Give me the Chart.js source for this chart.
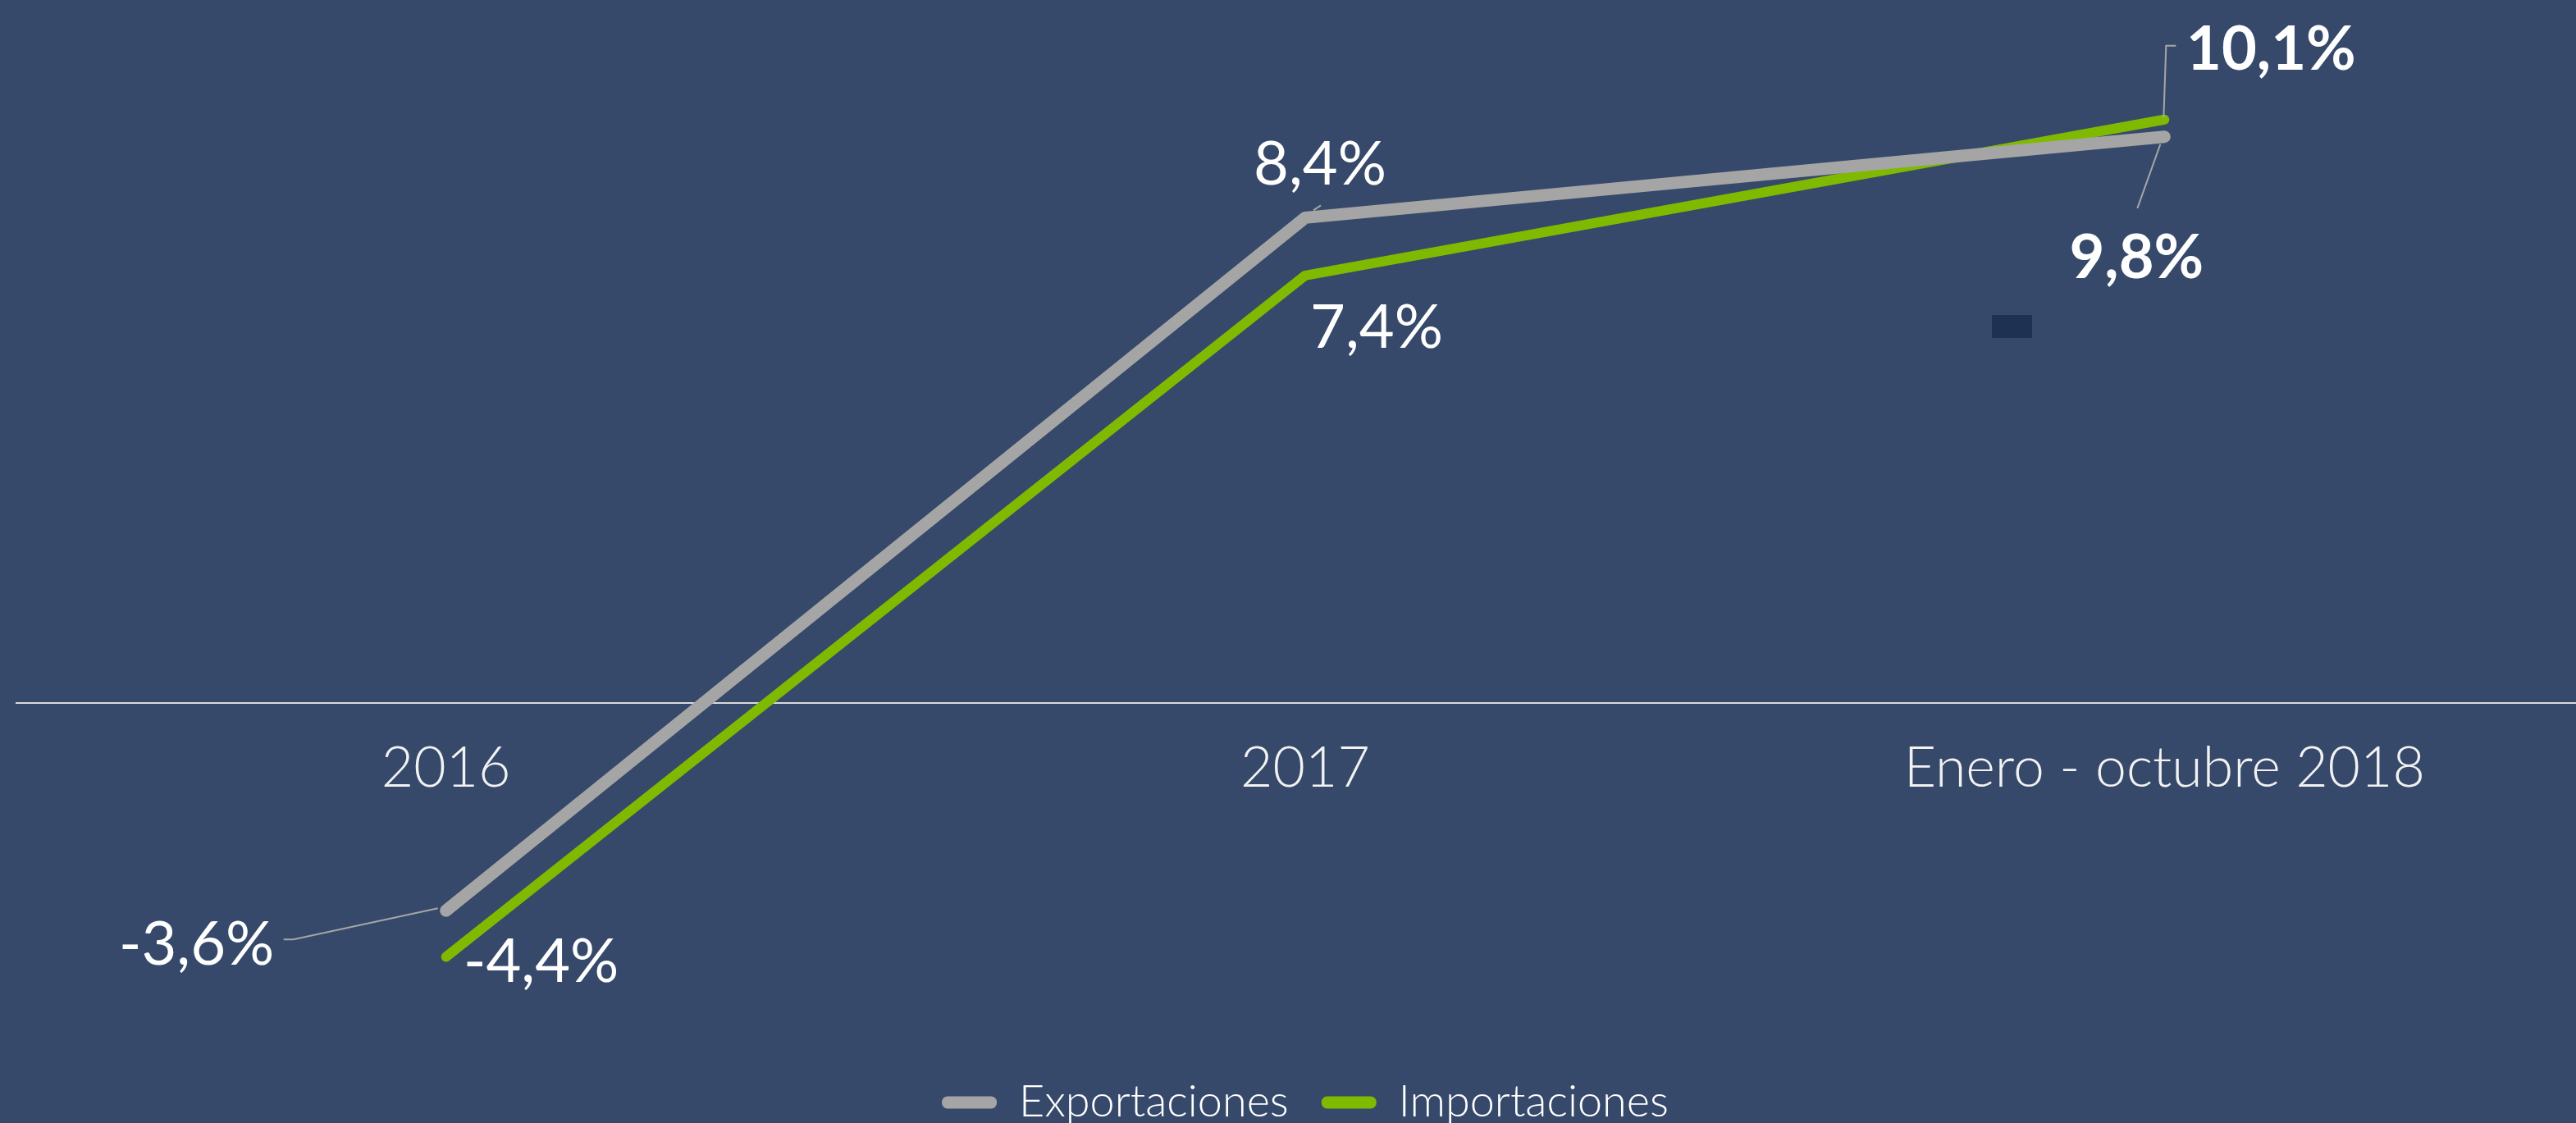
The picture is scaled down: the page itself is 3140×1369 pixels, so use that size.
<!DOCTYPE html>
<html>
<head>
<meta charset="utf-8">
<script src="https://cdn.jsdelivr.net/npm/chart.js@4/dist/chart.umd.min.js"></script>
<style>
  html, body { margin: 0; padding: 0; background: #36496a; overflow: hidden; }
  #wrap { width: 3164px; height: 1381px; position: relative; }
</style>
</head>
<body>
<div id="wrap"><canvas id="grafica"></canvas></div>
<script>
// Etiquetas del eje X y datos (variación %)
const etiquetas = ["2016", "2017", "Enero - octubre 2018"];
const exportaciones = [-3.6, 8.4, 9.8];
const importaciones = [-4.4, 7.4, 10.1];
const nombres = ["Exportaciones", "Importaciones"];

const formato = v => v.toFixed(1).replace(".", ",") + "%";

// posición de cada etiqueta respecto a su punto (dx, dy en px), negrita y línea guía
const estiloExp = [
  { dx: -304, dy: 39, bold: false, guia: [[-10, -3], [-186, 35], [-198, 35]] },
  { dx: 18, dy: -67, bold: false, guia: [[10, -9], [19, -15]] },
  { dx: -34, dy: 146, bold: true, guia: [[-5, 9], [-33, 87]] }
];
const estiloImp = [
  { dx: 116, dy: 4, bold: false, guia: null },
  { dx: 87, dy: 62, bold: false, guia: null },
  { dx: 130, dy: -87, bold: true, guia: [[-1, -2], [2, -90], [14, -90]] }
];

const etiquetasDatos = {
  id: "etiquetasDatos",
  beforeDatasetsDraw(chart) {
    // recuadro oscuro suelto que aparece en la diapositiva
    const ctx = chart.ctx;
    ctx.save();
    ctx.fillStyle = "#1f3152";
    ctx.fillRect(2428, 384, 49, 28);
    ctx.restore();
  },
  afterDatasetsDraw(chart) {
    const ctx = chart.ctx;
    const estilos = [estiloExp, estiloImp];
    ctx.save();
    chart.data.datasets.forEach((ds, i) => {
      const meta = chart.getDatasetMeta(i);
      meta.data.forEach((pt, j) => {
        const st = estilos[i][j];
        if (st.guia) {
          ctx.strokeStyle = "#a6a6a6";
          ctx.lineWidth = 2;
          ctx.beginPath();
          st.guia.forEach((p, k) => {
            const x = pt.x + p[0], y = pt.y + p[1];
            if (k === 0) ctx.moveTo(x, y); else ctx.lineTo(x, y);
          });
          ctx.stroke();
        }
        const size = 74;
        ctx.font = (st.bold ? "bold " : "") + size + "px Lato";
        ctx.fillStyle = "#ffffff";
        ctx.textAlign = "center";
        ctx.textBaseline = "alphabetic";
        ctx.fillText(formato(ds.data[j]), pt.x + st.dx, pt.y + st.dy + size * 0.36);
      });
    });
    ctx.restore();
  }
};

const $grafica = document.getElementById("grafica");
new Chart($grafica, {
  type: "line",
  data: {
    labels: etiquetas,
    datasets: [
      {
        label: nombres[0],
        data: exportaciones,
        borderColor: "#a5a5a5",
        backgroundColor: "#a5a5a5",
        borderWidth: 15,
        borderCapStyle: "round",
        borderJoinStyle: "round",
        pointRadius: 0,
        tension: 0
      },
      {
        label: nombres[1],
        data: importaciones,
        borderColor: "#7fba00",
        backgroundColor: "#7fba00",
        borderWidth: 12,
        borderCapStyle: "round",
        borderJoinStyle: "round",
        pointRadius: 0,
        tension: 0
      }
    ]
  },
  options: {
    responsive: true,
    maintainAspectRatio: false,
    animation: false,
    layout: { padding: { left: 20, right: 2, top: 0, bottom: 0 } },
    scales: {
      x: {
        type: "category",
        position: { y: 0 },
        offset: true,
        grid: { display: false, drawTicks: false },
        border: { display: true, color: "#d9d9d9", width: 2 },
        ticks: {
          color: "#f2f2f2",
          padding: 40,
          maxRotation: 0,
          font: { family: "Lato", size: 68, weight: "300" }
        }
      },
      y: {
        display: false,
        min: -5.97,
        max: 12.17
      }
    },
    plugins: {
      legend: {
        position: "bottom",
        labels: {
          color: "#ffffff",
          font: { family: "Lato", size: 54, weight: "300" },
          boxWidth: 67,
          boxHeight: 15,
          useBorderRadius: true,
          borderRadius: 7,
          padding: 40,
          generateLabels(chart) {
            return Chart.defaults.plugins.legend.labels.generateLabels(chart)
              .map(it => Object.assign(it, { lineWidth: 0 }));
          }
        }
      },
      tooltip: { enabled: false }
    }
  },
  plugins: [etiquetasDatos]
});
</script>
</body>
</html>
